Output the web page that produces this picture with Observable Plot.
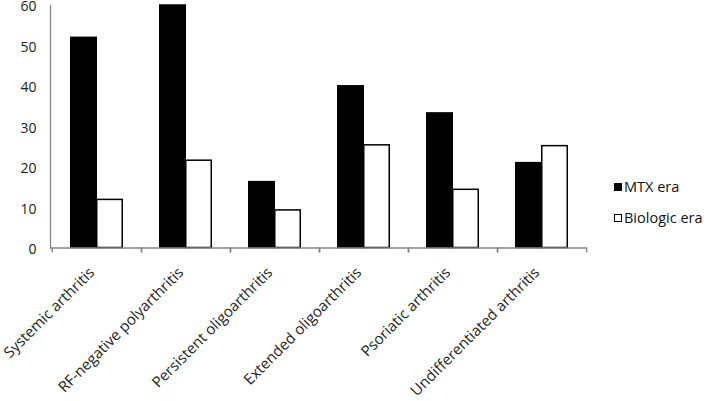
<!DOCTYPE html>
<html>
<head>
<meta charset="utf-8">
<script src="https://cdn.jsdelivr.net/npm/d3@7"></script>
<script src="https://cdn.jsdelivr.net/npm/@observablehq/plot@0.6"></script>
<style>
  html, body { margin: 0; padding: 0; background: #fff; }
  #wrap { position: relative; width: 709px; height: 401px; font-family: "Open Sans", sans-serif; }
  .legend { position: absolute; left: 614px; font-size: 14.5px; color: #111; display: flex; align-items: center; }
  .sw { width: 8px; height: 8px; margin-right: 2px; box-sizing: border-box; }
</style>
</head>
<body>
<div id="wrap"></div>
<script>
const categories = [
  "Systemic arthritis",
  "RF-negative polyarthritis",
  "Persistent oligoarthritis",
  "Extended oligoarthritis",
  "Psoriatic arthritis",
  "Undifferentiated arthritis"
];
const mtxEra = [52, 60, 16.3, 40, 33.3, 21];
const biologicEra = [11.9, 21.6, 9.3, 25.4, 14.4, 25.2];
const seriesNames = ["MTX era", "Biologic era"];
const yTicks = [0, 10, 20, 30, 40, 50, 60];

const rows = categories.map((c, i) => ({category: c, mtx: mtxEra[i], bio: biologicEra[i]}));

const width = 709, height = 401;
const marginLeft = 50, marginRight = 122, marginTop = 5, marginBottom = 153.5;
const band = (width - marginLeft - marginRight) / categories.length;
const barW = 26;
const outer = band / 2 - barW;
const axisGray = "#868686";
const font = "Open Sans, sans-serif";

const chart = Plot.plot({
  width, height, marginLeft, marginRight, marginTop, marginBottom,
  style: {fontFamily: font, fontSize: "14px", color: "#222", background: "white", overflow: "visible"},
  x: {domain: categories, padding: 0, label: null},
  y: {domain: [0, 60], label: null},
  marks: [
    Plot.barY(rows, {x: "category", y: "mtx", fill: "black", stroke: "black", strokeWidth: 1.5, insetLeft: outer, insetRight: band / 2}),
    Plot.barY(rows, {x: "category", y: "bio", fill: "white", stroke: "black", strokeWidth: 1.5, insetLeft: band / 2, insetRight: outer}),
    Plot.ruleY([0], {stroke: axisGray, strokeWidth: 1.3}),
    Plot.frame({anchor: "left", stroke: axisGray, strokeWidth: 1.3}),
    Plot.axisY({ticks: yTicks, tickSize: 0, tickPadding: 14, fontSize: 14, label: null, dy: 1.5}),
    Plot.axisX({tickSize: 5, tickFormat: () => "", dx: -band / 2, stroke: axisGray, strokeWidth: 1.3, label: null}),
    Plot.axisX({tickSize: 5, tickFormat: () => "", dx: band / 2, stroke: axisGray, strokeWidth: 1.3, label: null}),
    Plot.axisX({tickSize: 0, tickRotate: -45, tickPadding: 22, dx: -5, fontSize: 15, label: null})
  ]
});

const wrap = document.getElementById("wrap");
wrap.appendChild(chart);

const legendTops = [177, 208];
seriesNames.forEach((name, i) => {
  const item = document.createElement("div");
  item.className = "legend";
  item.style.top = legendTops[i] + "px";
  const sw = document.createElement("div");
  sw.className = "sw";
  sw.style.background = i === 0 ? "black" : "white";
  sw.style.border = "1px solid black";
  const label = document.createElement("span");
  label.textContent = name;
  item.appendChild(sw);
  item.appendChild(label);
  wrap.appendChild(item);
});
</script>
</body>
</html>
